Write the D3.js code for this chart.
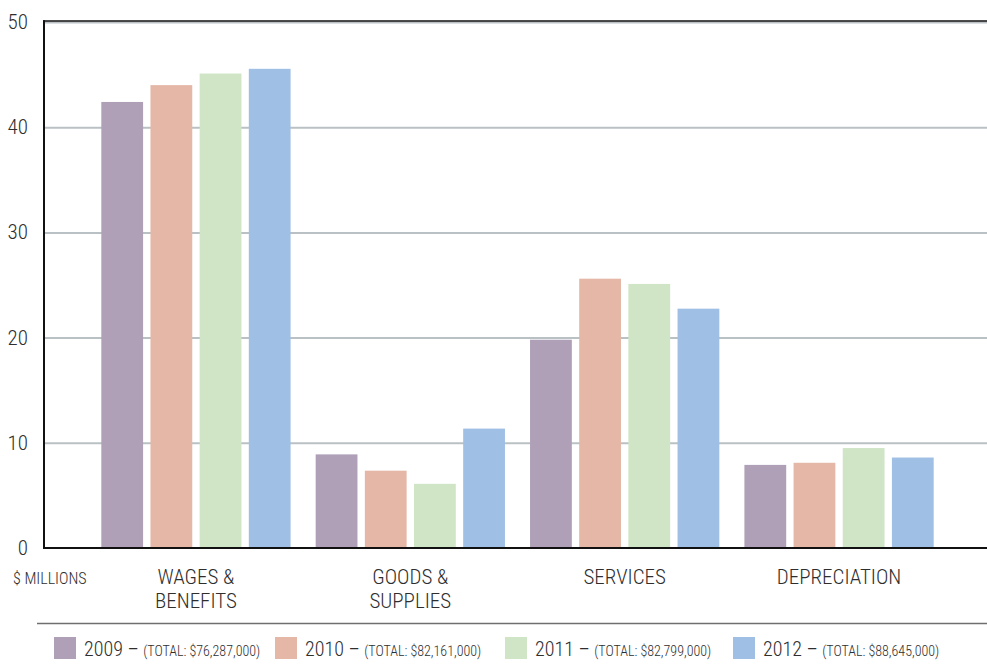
<!DOCTYPE html>
<html>
<head>
<meta charset="utf-8">
<script src="https://cdn.jsdelivr.net/npm/d3@7"></script>
<style>
  html, body { margin: 0; padding: 0; background: #fff; }
  svg { display: block; }
  text { font-family: "Roboto Condensed", "Liberation Sans Narrow", "Arial Narrow", sans-serif; font-weight: 300; font-stretch: condensed; fill: #2e2e2e; }
</style>
</head>
<body>
<svg id="chart" width="987" height="667"></svg>
<script>
// Operating expenses by category, $ millions
const categories = [["WAGES &", "BENEFITS"], ["GOODS &", "SUPPLIES"], ["SERVICES"], ["DEPRECIATION"]];
const years = ["2009", "2010", "2011", "2012"];
const totals = ["$76,287,000", "$82,161,000", "$82,799,000", "$88,645,000"];
const values2009 = [42.4, 8.9, 19.8, 7.9];
const values2010 = [44.0, 7.35, 25.6, 8.1];
const values2011 = [45.1, 6.1, 25.1, 9.5];
const values2012 = [45.55, 11.35, 22.75, 8.6];
const yTicks = [0, 10, 20, 30, 40, 50];
const colors = ["#afa0b8", "#e4b7a7", "#cfe5c5", "#a0bfe4"];

const series = [values2009, values2010, values2011, values2012];

const svg = d3.select("#chart");
const plot = { left: 43, right: 992, top: 22, bottom: 548 };

const y = d3.scaleLinear().domain([0, 50]).range([plot.bottom, plot.top]);
const x0 = d3.scaleBand()
  .domain(d3.range(categories.length))
  .range([plot.left, plot.right])
  .paddingInner(0.117)
  .paddingOuter(0.272);
const x1 = d3.scaleBand()
  .domain(d3.range(years.length))
  .range([0, x0.bandwidth()])
  .paddingInner(0.15)
  .paddingOuter(0);

// Horizontal gridlines
const grid = d3.axisLeft(y).tickValues(yTicks.filter(d => d > 0)).tickSize(-(987 - plot.left)).tickFormat("");
svg.append("g")
  .attr("transform", `translate(${plot.left},0)`)
  .call(grid)
  .call(g => g.select(".domain").remove())
  .call(g => g.selectAll("line").attr("stroke", "#bac1c5").attr("stroke-width", 2));

// Top border
svg.append("line")
  .attr("x1", plot.left).attr("x2", 987)
  .attr("y1", y(50) - 1).attr("y2", y(50) - 1)
  .attr("stroke", "#111").attr("stroke-width", 1.6);

// Bars
const groups = svg.append("g").selectAll("g")
  .data(categories.map((c, i) => i))
  .join("g")
  .attr("transform", i => `translate(${x0(i)},0)`);

groups.selectAll("rect")
  .data(i => series.map((s, k) => ({ k, v: s[i] })))
  .join("rect")
  .attr("x", d => x1(d.k))
  .attr("width", x1.bandwidth())
  .attr("y", d => y(d.v))
  .attr("height", d => y(0) - y(d.v))
  .attr("fill", d => colors[d.k]);

// Axis lines
svg.append("line")
  .attr("x1", plot.left + 1).attr("x2", plot.left + 1)
  .attr("y1", plot.top - 1.8).attr("y2", plot.bottom + 1)
  .attr("stroke", "#111").attr("stroke-width", 2);

svg.append("line")
  .attr("x1", plot.left).attr("x2", 987)
  .attr("y1", plot.bottom).attr("y2", plot.bottom)
  .attr("stroke", "#111").attr("stroke-width", 2);

// Y tick labels
svg.append("g").selectAll("text")
  .data(yTicks)
  .join("text")
  .attr("x", 28)
  .attr("y", d => y(d) + 7)
  .attr("text-anchor", "end")
  .style("font-size", "21px")
  .text(d => d);

svg.append("text")
  .attr("x", 13).attr("y", 584)
  .style("font-size", "16px")
  .text("$ MILLIONS");

// Category labels
const catLabels = svg.append("g").selectAll("text")
  .data(categories)
  .join("text")
  .attr("x", (c, i) => x0(i) + x0.bandwidth() / 2)
  .attr("y", 584)
  .attr("text-anchor", "middle")
  .style("font-size", "21px");
catLabels.selectAll("tspan")
  .data(c => c)
  .join("tspan")
  .attr("x", function () { return this.parentNode.getAttribute("x"); })
  .attr("dy", (d, j) => j === 0 ? 0 : 24)
  .text(d => d);

// Separator above legend
svg.append("line")
  .attr("x1", 37).attr("x2", 987)
  .attr("y1", 623.5).attr("y2", 623.5)
  .attr("stroke", "#6f6f6f").attr("stroke-width", 1.5);

// Legend
const legendX = [54, 275, 505, 733];
const legend = svg.append("g").selectAll("g")
  .data(years)
  .join("g")
  .attr("transform", (d, i) => `translate(${legendX[i]},637)`);
legend.append("rect")
  .attr("width", 22).attr("height", 22)
  .attr("fill", (d, i) => colors[i]);
const lt = legend.append("text")
  .attr("x", 30).attr("y", 19);
lt.append("tspan").style("font-size", "20px").text(d => `${d} \u2013 `);
lt.append("tspan").style("font-size", "14px").text((d, i) => `(TOTAL: ${totals[i]})`);
</script>
</body>
</html>
